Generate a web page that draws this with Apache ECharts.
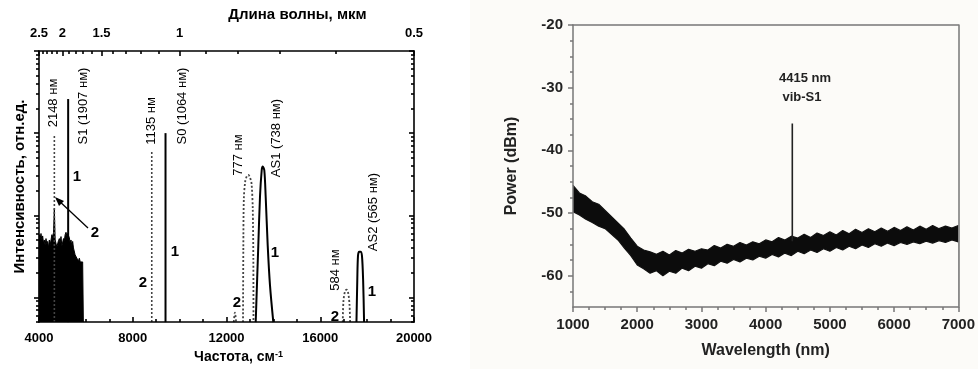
<!DOCTYPE html>
<html>
<head>
<meta charset="utf-8">
<script src="https://cdn.jsdelivr.net/npm/echarts@6/dist/echarts.min.js"></script>
<style>
html, body { margin: 0; padding: 0; background: #fff; }
#chart { width: 978px; height: 369px; }
</style>
</head>
<body>
<div id="chart"></div>
<script>
// ---- левая панель: спектр (частота, см-1; интенсивность, лог. шкала) ----
var yMin = 0.0005;
var noiseFreq = [4010, 4015, 4050, 4085, 4120, 4156, 4190, 4227, 4260, 4299, 4330, 4370, 4400, 4441, 4480, 4512,
  4550, 4583, 4620, 4654, 4690, 4725, 4760, 4796, 4830, 4868, 4900, 4939, 4975, 5010, 5045, 5081, 5115, 5152,
  5190, 5223, 5260, 5294, 5330, 5365, 5400, 5436, 5470, 5508, 5540, 5579, 5615, 5650, 5690, 5721, 5760, 5792,
  5830, 5863, 5890, 5892];
var noiseInt = [0.0005, 0.0058, 0.0052, 0.0060, 0.0050, 0.0056, 0.0046, 0.0050, 0.0043, 0.0052, 0.0045, 0.0048,
  0.0040, 0.0050, 0.0044, 0.0045, 0.0058, 0.0054, 0.0062, 0.0121, 0.0050, 0.0052, 0.0041, 0.0040, 0.0049, 0.0052,
  0.0046, 0.0055, 0.0042, 0.0044, 0.0052, 0.0049, 0.0058, 0.0062, 0.0056, 0.0060, 0.0058, 0.0053, 0.0046, 0.0050,
  0.0042, 0.0048, 0.0040, 0.0041, 0.0033, 0.0032, 0.0030, 0.0030, 0.0028, 0.0030, 0.0027, 0.0028, 0.0026, 0.0027,
  0.0027, 0.0005];

// линии 1 (сплошные): S1, S0
var lineFreq1 = [5244, 9398];
var lineTop1 = [0.26, 0.1];
// линии 2 (пунктир): 2148 нм, 1135 нм
var lineFreq2 = [4655, 8811];
var lineTop2 = [0.092, 0.061];

var as1Freq = [13246, 13357, 13429, 13502, 13544, 13613, 13672, 13758, 13856, 13997];
var as1Int = [0.0005, 0.0043, 0.0168, 0.0353, 0.0391, 0.0353, 0.0168, 0.0043, 0.0014, 0.0005];
var as2Freq = [17545, 17580, 17610, 17660, 17720, 17780, 17830, 17870];
var as2Int = [0.0005, 0.0016, 0.0032, 0.0036, 0.0036, 0.0032, 0.0016, 0.0005];

var p777Freq = [12705, 12718, 12740, 12800, 12870, 12930, 13000, 13070, 13120, 13145, 13150];
var p777Int = [0.0005, 0.004, 0.016, 0.026, 0.030, 0.031, 0.029, 0.024, 0.012, 0.003, 0.0005];
var bumpFreq = [12310, 12360, 12410];
var bumpInt = [0.0005, 0.00065, 0.0005];
var p584Freq = [16960, 16990, 17060, 17128, 17200, 17250, 17275];
var p584Int = [0.0005, 0.0009, 0.0012, 0.00124, 0.0011, 0.0008, 0.0005];

// верхняя шкала: длина волны, мкм
var topMajorUm = [2.5, 2, 1.5, 1, 0.5];
var topMinorUm = [2.4, 2.3, 2.2, 2.1, 1.9, 1.8, 1.7, 1.6, 1.4, 1.3, 1.2, 1.1, 0.9, 0.8, 0.7, 0.6];
var yMajor = [0.001, 0.01, 0.1, 1];

// ---- правая панель: Power (dBm) vs Wavelength (nm) ----
var wl = [1000, 1100, 1200, 1300, 1400, 1500, 1600, 1700, 1800, 1900, 2000, 2100, 2200, 2300, 2400, 2500,
  2600, 2700, 2800, 2900, 3000, 3100, 3200, 3300, 3400, 3500, 3600, 3700, 3800, 3900, 4000, 4100, 4200, 4300,
  4400, 4500, 4600, 4700, 4800, 4900, 5000, 5100, 5200, 5300, 5400, 5500, 5600, 5700, 5800, 5900, 6000, 6100,
  6200, 6300, 6400, 6500, 6600, 6700, 6800, 6900, 7000];
var powUpper = [-45.6, -46.8, -47.3, -48.2, -48.6, -49.6, -50.6, -51.6, -52.6, -54.0, -55.3, -55.9, -56.2, -56.6,
  -56.1, -56.7, -56.0, -56.4, -55.8, -56.1, -55.7, -55.9, -55.2, -55.6, -55.0, -55.3, -54.7, -55.1, -54.6, -54.9,
  -54.3, -54.6, -53.9, -54.3, -53.7, -54.0, -53.4, -53.9, -53.2, -53.6, -53.0, -53.5, -52.8, -53.3, -52.6, -53.1,
  -52.5, -53.0, -52.4, -52.9, -52.3, -52.8, -52.2, -52.7, -52.1, -52.6, -52.0, -52.5, -52.1, -52.4, -52.0];
var powLower = [-49.8, -50.3, -51.0, -51.5, -52.1, -52.5, -53.4, -54.3, -55.6, -56.8, -58.3, -58.9, -59.6, -59.2,
  -60.0, -59.3, -59.6, -58.8, -59.2, -58.5, -58.8, -58.1, -58.4, -57.7, -58.0, -57.4, -57.8, -57.2, -57.5, -56.9,
  -57.2, -56.6, -57.0, -56.4, -56.8, -56.1, -56.5, -55.9, -56.3, -55.7, -56.1, -55.5, -55.9, -55.3, -55.7, -55.1,
  -55.5, -54.9, -55.3, -54.8, -55.2, -54.7, -55.0, -54.6, -54.9, -54.5, -54.8, -54.4, -54.7, -54.3, -54.6];
var peakWl = 4415;
var peakPow = [-54.5, -35.7];
var powMajor = [-60, -50, -40, -30, -20];
var powMinor = [-62.5, -57.5, -55, -52.5, -47.5, -45, -42.5, -37.5, -35, -32.5, -27.5, -25, -22.5];

var FONT = 'Liberation Sans';
var BG_R = '#fcfbf8';

function zip(a, b) { return a.map(function (v, i) { return [v, b[i]]; }); }
var yMinor = [];
[0.0001, 0.001, 0.01, 0.1].forEach(function (d) {
  for (var m = 2; m <= 9; m++) { var v = d * m; if (v >= yMin && v < 1) yMinor.push(v); }
});
var topMajorF = topMajorUm.map(function (u) { return 10000 / u; });
var topMinorF = topMinorUm.map(function (u) { return 10000 / u; });

var chart = echarts.init(document.getElementById('chart'));

var series = [];
series.push({
  type: 'line', xAxisIndex: 0, yAxisIndex: 0, data: zip(noiseFreq, noiseInt), symbol: 'none',
  lineStyle: { color: '#000', width: 1 }, areaStyle: { color: '#000', opacity: 1, origin: 'start' }, z: 2
});
lineFreq1.forEach(function (f, i) {
  series.push({ type: 'line', xAxisIndex: 0, yAxisIndex: 0, data: [[f, yMin], [f, lineTop1[i]]], symbol: 'none',
    lineStyle: { color: '#000', width: 2 }, z: 4 });
});
lineFreq2.forEach(function (f, i) {
  series.push({ type: 'line', xAxisIndex: 0, yAxisIndex: 0, data: [[f, yMin], [f, lineTop2[i]]], symbol: 'none',
    lineStyle: { color: '#444', width: 1.6, type: [2, 2] }, z: 3 });
});
[[as1Freq, as1Int], [as2Freq, as2Int]].forEach(function (p) {
  series.push({ type: 'line', xAxisIndex: 0, yAxisIndex: 0, data: zip(p[0], p[1]), symbol: 'none', smooth: 0.3,
    lineStyle: { color: '#000', width: 2 }, z: 4 });
});
[[p777Freq, p777Int], [bumpFreq, bumpInt], [p584Freq, p584Int]].forEach(function (p) {
  series.push({ type: 'line', xAxisIndex: 0, yAxisIndex: 0, data: zip(p[0], p[1]), symbol: 'none', smooth: 0.3,
    lineStyle: { color: '#444', width: 1.8, type: [2, 2] }, z: 3 });
});
// right panel: noisy band = upper area (black) covered below by lower area (background)
series.push({
  type: 'line', xAxisIndex: 3, yAxisIndex: 4, data: zip(wl, powUpper), symbol: 'none', z: 2,
  lineStyle: { color: '#111', width: 1.2 }, areaStyle: { color: '#0c0c0c', opacity: 1, origin: 'start' }
});
series.push({
  type: 'line', xAxisIndex: 3, yAxisIndex: 4, data: zip(wl, powLower), symbol: 'none', z: 3,
  lineStyle: { color: '#111', width: 1.2 }, areaStyle: { color: BG_R, opacity: 1, origin: 'start' }
});
series.push({
  type: 'line', xAxisIndex: 3, yAxisIndex: 4, data: [[peakWl, peakPow[0]], [peakWl, peakPow[1]]], symbol: 'none',
  z: 4, lineStyle: { color: '#222', width: 1.6 }
});

var axL = { color: '#000', width: 1.6 };
var axR = { color: '#777', width: 1.5 };
var boldL = { color: '#000', fontFamily: FONT, fontWeight: 'bold', fontSize: 13 };
var boldR = { color: '#222', fontFamily: FONT, fontWeight: 'bold', fontSize: 15 };
function plain(v) { return String(v); }

function rotText(x, y, text) {
  return { type: 'text', x: x, y: y, rotation: Math.PI / 2,
    style: { text: text, fill: '#000', font: '13px "' + FONT + '"', align: 'center', verticalAlign: 'middle' } };
}
function numText(x, y, text) {
  return { type: 'text', x: x, y: y,
    style: { text: text, fill: '#000', font: 'bold 15px "' + FONT + '"', align: 'center', verticalAlign: 'middle' } };
}

chart.setOption({
  animation: false,
  backgroundColor: '#fff',
  grid: [
    { left: 39, top: 51, width: 375, height: 277 },
    { left: 573, top: 25, width: 386, height: 282 }
  ],
  xAxis: [
    { type: 'value', gridIndex: 0, position: 'bottom', min: 4000, max: 20000, interval: 4000, z: 5,
      axisLine: { lineStyle: axL }, axisTick: { inside: true, length: 5, lineStyle: axL },
      minorTick: { show: true, splitNumber: 4, length: 3, lineStyle: axL },
      axisLabel: Object.assign({ margin: 10, formatter: plain }, boldL), splitLine: { show: false },
      name: '{a|Частота, см}{b|-1}', nameLocation: 'middle', nameGap: 27,
      nameTextStyle: { padding: [0, 0, 0, 24], rich: {
        a: { fontFamily: FONT, fontWeight: 'bold', fontSize: 14, color: '#000', verticalAlign: 'bottom' },
        b: { fontFamily: FONT, fontWeight: 'bold', fontSize: 9, color: '#000', verticalAlign: 'top' } } } },
    { type: 'value', gridIndex: 0, position: 'top', min: 4000, max: 20000, z: 5,
      axisLine: { lineStyle: axL }, axisTick: { inside: true, length: 5, lineStyle: axL, customValues: topMajorF },
      axisLabel: Object.assign({ margin: 11, customValues: topMajorF,
        formatter: function (v) { return String(+(10000 / v).toFixed(2)); } }, boldL),
      splitLine: { show: false },
      name: 'Длина волны, мкм', nameLocation: 'middle', nameGap: 28,
      nameTextStyle: { fontFamily: FONT, fontWeight: 'bold', fontSize: 15, color: '#000', padding: [0, 0, 0, 142] } },
    { type: 'value', gridIndex: 0, position: 'top', min: 4000, max: 20000, z: 5,
      axisLine: { show: false }, axisTick: { inside: true, length: 3, lineStyle: axL, customValues: topMinorF },
      axisLabel: { show: false }, splitLine: { show: false } },
    { type: 'value', gridIndex: 1, position: 'bottom', min: 1000, max: 7000, interval: 1000, z: 5,
      axisLine: { lineStyle: axR }, axisTick: { length: 5, lineStyle: axR },
      minorTick: { show: true, splitNumber: 4, length: 3, lineStyle: axR },
      axisLabel: Object.assign({ margin: 10, formatter: plain }, boldR), splitLine: { show: false },
      name: 'Wavelength (nm)', nameLocation: 'middle', nameGap: 36,
      nameTextStyle: { fontFamily: FONT, fontWeight: 'bold', fontSize: 16, color: '#222' } },
    { type: 'value', gridIndex: 1, position: 'top', min: 1000, max: 7000, z: 5,
      axisLine: { lineStyle: axR }, axisTick: { show: false }, axisLabel: { show: false }, splitLine: { show: false } }
  ],
  yAxis: [
    { type: 'log', gridIndex: 0, position: 'left', min: yMin, max: 1, z: 5,
      axisLine: { show: true, lineStyle: axL }, axisTick: { length: 5, lineStyle: axL, customValues: yMajor },
      axisLabel: { show: false }, splitLine: { show: false },
      name: 'Интенсивность, отн.ед.', nameLocation: 'middle', nameGap: 12,
      nameTextStyle: { fontFamily: FONT, fontWeight: 'bold', fontSize: 15, color: '#000' } },
    { type: 'log', gridIndex: 0, position: 'left', min: yMin, max: 1, z: 5,
      axisLine: { show: false }, axisTick: { length: 3, lineStyle: axL, customValues: yMinor },
      axisLabel: { show: false }, splitLine: { show: false } },
    { type: 'log', gridIndex: 0, position: 'right', min: yMin, max: 1, z: 5,
      axisLine: { show: true, lineStyle: axL }, axisTick: { inside: true, length: 5, lineStyle: axL, customValues: yMajor },
      axisLabel: { show: false }, splitLine: { show: false } },
    { type: 'log', gridIndex: 0, position: 'right', min: yMin, max: 1, z: 5,
      axisLine: { show: false }, axisTick: { inside: true, length: 3, lineStyle: axL, customValues: yMinor },
      axisLabel: { show: false }, splitLine: { show: false } },
    { type: 'value', gridIndex: 1, position: 'left', min: -65, max: -20, z: 5,
      axisLine: { show: true, lineStyle: axR }, axisTick: { length: 5, lineStyle: axR, customValues: powMajor },
      axisLabel: Object.assign({ margin: 10, customValues: powMajor }, boldR), splitLine: { show: false },
      name: 'Power (dBm)', nameLocation: 'middle', nameGap: 53,
      nameTextStyle: { fontFamily: FONT, fontWeight: 'bold', fontSize: 16, color: '#222' } },
    { type: 'value', gridIndex: 1, position: 'left', min: -65, max: -20, z: 5,
      axisLine: { show: false }, axisTick: { length: 3, lineStyle: axR, customValues: powMinor },
      axisLabel: { show: false }, splitLine: { show: false } },
    { type: 'value', gridIndex: 1, position: 'right', min: -65, max: -20, z: 5,
      axisLine: { show: true, lineStyle: axR }, axisTick: { show: false }, axisLabel: { show: false }, splitLine: { show: false } }
  ],
  series: series,
  graphic: [
    { type: 'rect', z: -10, shape: { x: 470, y: 0, width: 508, height: 369 }, style: { fill: BG_R } },
    rotText(53, 103, '2148 нм'),
    rotText(83, 106, 'S1 (1907 нм)'),
    rotText(151, 121, '1135 нм'),
    rotText(182, 106, 'S0 (1064 нм)'),
    rotText(238, 155, '777 нм'),
    rotText(276, 138, 'AS1 (738 нм)'),
    rotText(335, 270, '584 нм'),
    rotText(373, 212, 'AS2 (565 нм)'),
    numText(77, 177, '1'), numText(95, 233, '2'), numText(175, 252, '1'), numText(143, 283, '2'),
    numText(237, 303, '2'), numText(275, 253, '1'), numText(335, 317, '2'), numText(372, 292, '1'),
    { type: 'line', shape: { x1: 88, y1: 228, x2: 57, y2: 199 }, style: { stroke: '#000', lineWidth: 1.3 } },
    { type: 'polygon', shape: { points: [[55, 197], [64, 201], [59, 206]] }, style: { fill: '#000' } },
    { type: 'text', x: 805, y: 78, style: { text: '4415 nm', fill: '#222', font: 'bold 13px "' + FONT + '"',
      align: 'center', verticalAlign: 'middle' } },
    { type: 'text', x: 802, y: 97, style: { text: 'vib-S1', fill: '#222', font: 'bold 13px "' + FONT + '"',
      align: 'center', verticalAlign: 'middle' } }
  ]
});
</script>
</body>
</html>
